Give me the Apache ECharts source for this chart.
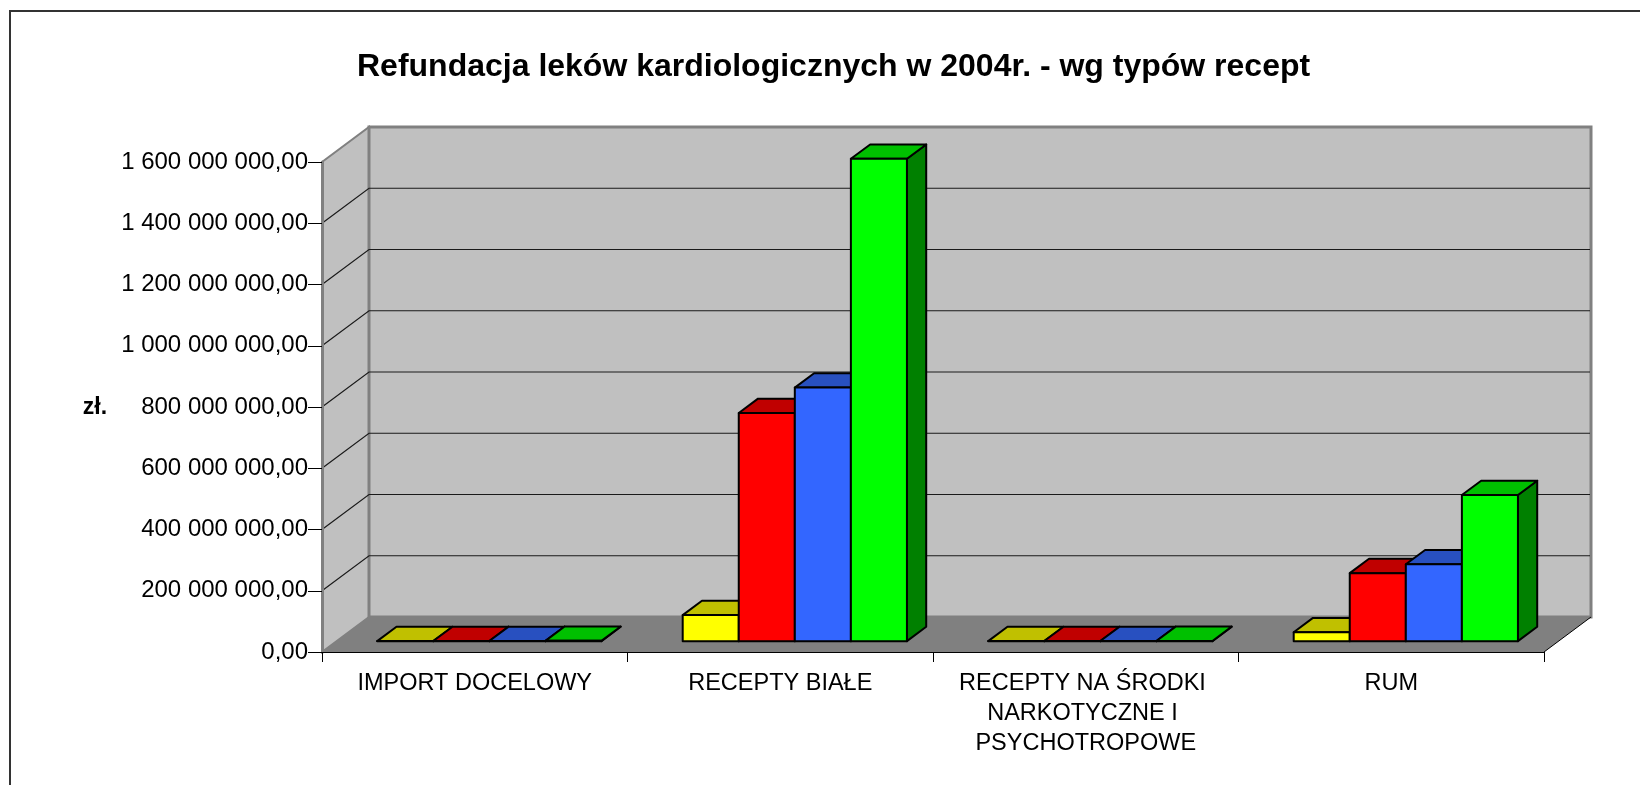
<!DOCTYPE html>
<html>
<head>
<meta charset="utf-8">
<script src="https://cdn.jsdelivr.net/npm/echarts@6/dist/echarts.min.js"></script>
<style>
  html, body { margin: 0; padding: 0; background: #fff; }
  #chart { width: 1640px; height: 785px; }
</style>
</head>
<body>
<div id="chart"></div>
<script>
// data (zł)
const categories = ['IMPORT DOCELOWY', 'RECEPTY BIAŁE', 'RECEPTY NA ŚRODKI NARKOTYCZNE I PSYCHOTROPOWE', 'RUM'];
const seriesNames = ['Seria 1', 'Seria 2', 'Seria 3', 'Seria 4'];
const yellowValues = [200000, 85000000, 150000, 29000000];
const redValues = [400000, 745000000, 300000, 222000000];
const blueValues = [450000, 828000000, 350000, 251000000];
const greenValues = [900000, 1575000000, 700000, 477000000];
const yMax = 1600000000, yStep = 200000000;

// colours: front / top / side faces
const frontColors = ['#ffff00', '#ff0000', '#3366ff', '#00ff00'];
const topColors = ['#c0c000', '#c00000', '#2850c0', '#00c000'];
const sideColors = ['#808000', '#800000', '#1a3380', '#008000'];

// the fake 3d box
const DX = 47, DY = 35;      // depth of the box
const D0 = 0.31, D1 = 0.72;  // where the bars sit inside it
const BAR_FRAC = 0.1835;     // bar width / category width
const FONT = "'Liberation Sans', Arial, sans-serif";

function fmt(v) {
  let s = String(Math.round(v));
  s = s.replace(/\B(?=(\d{3})+(?!\d))/g, ' ');
  return s + ',00';
}

function renderWalls(params, api) {
  const cs = params.coordSys;
  const x0 = cs.x, x1 = cs.x + cs.width;
  const yTop = cs.y, yBot = cs.y + cs.height;
  const kids = [];
  // left wall
  kids.push({
    type: 'polygon',
    shape: {points: [[x0, yTop], [x0 + DX, yTop - DY], [x0 + DX, yBot - DY], [x0, yBot]]},
    style: {fill: '#c0c0c0', stroke: '#808080', lineWidth: 2}
  });
  // back wall
  kids.push({
    type: 'rect',
    shape: {x: x0 + DX, y: yTop - DY, width: cs.width, height: cs.height},
    style: {fill: '#c0c0c0', stroke: '#808080', lineWidth: 3}
  });
  // floor
  kids.push({
    type: 'polygon',
    shape: {points: [[x0, yBot], [x0 + DX, yBot - DY], [x1 + DX, yBot - DY], [x1, yBot]]},
    style: {fill: '#808080'}
  });
  kids.push({
    type: 'line',
    shape: {x1: x1, y1: yBot, x2: x1 + DX, y2: yBot - DY},
    style: {stroke: '#000', lineWidth: 1}
  });
  // gridlines on both walls
  for (let v = yStep; v < yMax; v += yStep) {
    const y = api.coord([0, v])[1];
    kids.push({
      type: 'polyline',
      shape: {points: [[x0, y], [x0 + DX, y - DY], [x1 + DX - 1, y - DY]]},
      style: {stroke: '#1a1a1a', lineWidth: 1.2, fill: null}
    });
  }
  return {type: 'group', children: kids};
}

function barRenderer(k) {
  return function(params, api) {
    const band = api.size([1, 0])[0];
    const bw = band * BAR_FRAC;
    const base = api.coord([api.value(0), 0]);
    const top = api.coord([api.value(0), api.value(1)]);
    const x = base[0] - 2 * bw + k * bw + D0 * DX;
    const yb = base[1] - D0 * DY;
    const yt = top[1] - D0 * DY;
    const ddx = (D1 - D0) * DX, ddy = (D1 - D0) * DY;
    const st = {stroke: '#000', lineWidth: 2, lineJoin: 'round'};
    return {
      type: 'group',
      children: [
        {type: 'polygon',
         shape: {points: [[x + bw, yt], [x + bw + ddx, yt - ddy], [x + bw + ddx, yb - ddy], [x + bw, yb]]},
         style: Object.assign({fill: sideColors[k]}, st)},
        {type: 'polygon',
         shape: {points: [[x, yt], [x + bw, yt], [x + bw + ddx, yt - ddy], [x + ddx, yt - ddy]]},
         style: Object.assign({fill: topColors[k]}, st)},
        {type: 'rect',
         shape: {x: x, y: yt, width: bw, height: yb - yt},
         style: Object.assign({fill: frontColors[k]}, st)}
      ]
    };
  };
}

const allValues = [yellowValues, redValues, blueValues, greenValues];
const barSeries = allValues.map(function(vals, k) {
  return {
    name: seriesNames[k],
    type: 'custom',
    renderItem: barRenderer(k),
    data: vals.map(function(v, i) { return [i, v]; }),
    encode: {x: 0, y: 1},
    z: 3 + k
  };
});

const chart = echarts.init(document.getElementById('chart'));
chart.setOption({
  animation: false,
  backgroundColor: '#fff',
  textStyle: {fontFamily: FONT},
  title: {
    text: 'Refundacja leków kardiologicznych w 2004r. - wg typów recept',
    left: 357,
    top: 51,
    padding: 0,
    textStyle: {fontFamily: FONT, fontSize: 32, fontWeight: 'bold', color: '#000'}
  },
  graphic: [
    {type: 'rect', shape: {x: 10, y: 11, width: 1700, height: 900},
     style: {fill: null, stroke: '#333', lineWidth: 2}, z: 0},
    {type: 'text', x: 95, y: 408,
     style: {text: 'zł.', font: 'bold 23px ' + FONT, fill: '#000', align: 'center', verticalAlign: 'middle'}}
  ],
  grid: {left: 322, right: 96, top: 162, bottom: 133, containLabel: false},
  xAxis: {
    type: 'category',
    data: categories,
    z: 10,
    axisLine: {lineStyle: {color: '#000', width: 1}},
    axisTick: {show: true, length: 10, lineStyle: {color: '#000'}},
    axisLabel: {
      interval: 0, margin: 17, color: '#000', fontSize: 23.5, lineHeight: 30,
      fontFamily: FONT, width: 280, overflow: 'break'
    },
    splitLine: {show: false}
  },
  yAxis: {
    type: 'value',
    min: 0,
    max: yMax,
    interval: yStep,
    z: 10,
    axisLine: {show: true, lineStyle: {color: '#808080', width: 3}},
    axisTick: {show: true, length: 14, lineStyle: {color: '#000'}},
    axisLabel: {margin: 14, color: '#000', fontSize: 24, fontFamily: FONT, formatter: fmt},
    splitLine: {show: false}
  },
  series: [{
    name: 'walls',
    type: 'custom',
    renderItem: renderWalls,
    data: [[0, 0]],
    encode: {x: 0, y: 1},
    silent: true,
    z: 1
  }].concat(barSeries)
});
</script>
</body>
</html>
